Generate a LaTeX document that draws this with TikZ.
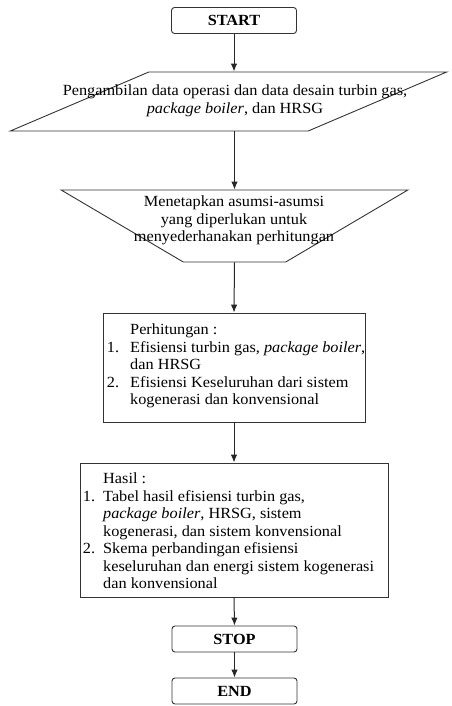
\documentclass[tikz,border=0pt]{standalone}
\usepackage{fontspec}
\setmainfont{Liberation Serif}[FakeStretch=1.05]
\usetikzlibrary{shapes.geometric,arrows.meta}

\begin{document}
\begin{tikzpicture}[x=1pt,y=-1pt,
  garis/.style={draw=black!80, line width=0.9pt},
  ujung/.style={garis, rounded corners=3pt, minimum width=125pt, minimum height=26pt,
    font=\fontsize{15.5}{17.5}\selectfont\bfseries},
  kotak/.style={garis, rectangle},
  miring/.style={garis, trapezium, trapezium stretches=true},
  teks/.style={inner sep=0pt, font=\fontsize{15.5}{17.5}\selectfont},
  panah/.style={draw=black!85, line width=1pt, -{Latex[length=8pt,width=6.5pt]}}]
  \useasboundingbox (0,0) rectangle (451,706);

  % Draw the flowchart shapes
  \node[ujung] (mulai) at (234,20.5) {START};
  \node[miring, trapezium left angle=49, trapezium right angle=131,
    minimum width=437pt, minimum height=59pt] (ambil) at (228.5,101.5) {};
  \node[teks, align=center] (ambilteks) at (235,101) {Pengambilan data operasi dan data desain turbin gas,\\
    \textit{package boiler}, dan HRSG};
  \node[miring, trapezium left angle=140, trapezium right angle=140,
    minimum width=347pt, minimum height=72pt] (asumsi) at (234.5,226) {};
  \node[teks, align=center] (asumsiteks) at (234,220.5) {Menetapkan asumsi-asumsi\\
    yang diperlukan untuk\\
    menyederhanakan perhitungan};
  \node[kotak, minimum width=262pt, minimum height=109pt] (hitung) at (234,367.5) {};
  \node[teks, anchor=west, align=left] (hitungteks) at (130,366) {Perhitungan :\\
    \llap{1.\hspace{11pt}}Efisiensi turbin gas, \textit{package boiler},\\
    dan HRSG\\
    \llap{2.\hspace{11pt}}Efisiensi Keseluruhan dari sistem\\
    kogenerasi dan konvensional};
  \node[kotak, minimum width=308pt, minimum height=134pt] (hasil) at (234,530) {};
  \node[teks, anchor=west, align=left] (hasilteks) at (103,531) {Hasil :\\
    \llap{1.\hspace{8pt}}Tabel hasil efisiensi turbin gas,\\
    \textit{package boiler}, HRSG, sistem\\
    kogenerasi, dan sistem konvensional\\
    \llap{2.\hspace{8pt}}Skema perbandingan efisiensi\\
    keseluruhan dan energi sistem kogenerasi\\
    dan konvensional};
  \node[ujung] (stop) at (234.5,639) {STOP};
  \node[ujung] (akhir) at (234.5,691) {END};

  % Connect the steps
  \draw[panah] (mulai.south) -- (mulai.south |- ambil.north);
  \draw[panah] (ambil.south -| asumsi.north) -- (asumsi.north);
  \draw[panah] (asumsi.south) -- (hitung.north);
  \draw[panah] (hitung.south) -- (hasil.north);
  \draw[panah] (hasil.south) -- (stop.north);
  \draw[panah] (stop.south) -- (akhir.north);
\end{tikzpicture}
\end{document}
